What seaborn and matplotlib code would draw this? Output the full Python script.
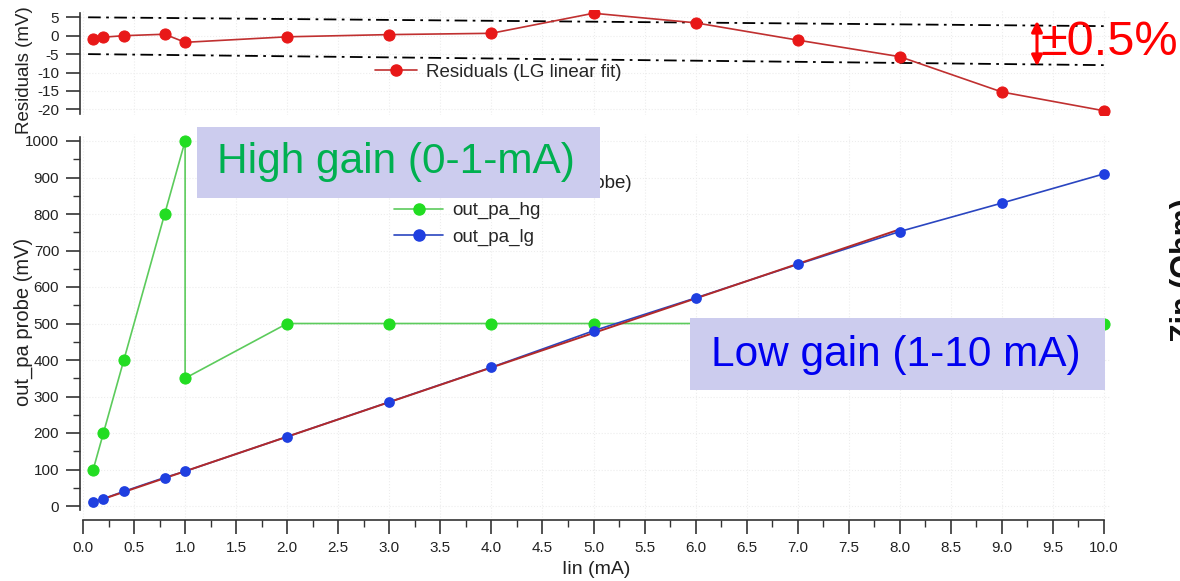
import numpy as np
import pandas as pd
import seaborn as sns
import matplotlib
matplotlib.use("Agg")
import matplotlib.pyplot as plt
from matplotlib.patches import Rectangle, FancyArrowPatch
from matplotlib.lines import Line2D
from matplotlib.ticker import MultipleLocator

# ---------------- data ----------------
iin = [0.1, 0.2, 0.4, 0.8, 1.0, 2, 3, 4, 5, 6, 7, 8, 9, 10]
hg_x = [0.1, 0.2, 0.4, 0.8, 1.0, 1.0, 2, 3, 4, 5, 6, 7, 8, 9, 10]
hg_y = [100, 200, 400, 800, 1000, 350, 500, 500, 500, 500, 500, 500, 500, 500, 500]
lg_y = [10, 20, 40, 78, 95, 190, 285, 380, 480, 570, 662, 752, 830, 910]
resid = [-1.0, -0.4, 0.0, 0.4, -1.8, -0.3, 0.3, 0.65, 6.1, 3.5, -1.2, -5.7, -15.3, -20.4]
fit_x = [0.1, 8.0]
fit_y = [10, 758]
band_x = [0.05, 10.0]
band_hi = [5.0, 2.6]
band_lo = [-5.0, -8.0]

x_ticks = np.arange(0, 10.01, 0.5)
y_ticks = np.arange(0, 1001, 100)
r_ticks = [5, 0, -5, -10, -15, -20]

sns.set_theme(style="white")
plt.rcParams['font.family'] = ['Liberation Sans', 'DejaVu Sans']
plt.rcParams['axes.unicode_minus'] = False

W, H = 1180, 581
fig = plt.figure(figsize=(W / 100, H / 100), dpi=100)


def fx(px):
    return px / W


def fy(py):
    return 1 - py / H


# axes geometry (pixel-based)
ax_l, ax_r = 80, 1110
x0_px, x10_px = 83, 1104
ppu = (x10_px - x0_px) / 10.0
xlim = ((ax_l - x0_px) / ppu, (ax_r - x0_px) / ppu)

# main axes
m_top, m_bot = 134, 520
y0_px, y1000_px = 506, 141
ppm = (y0_px - y1000_px) / 1000.0
m_ylim = ((y0_px - m_bot) / ppm, (y0_px - m_top) / ppm)
ax = fig.add_axes([fx(ax_l), fy(m_bot), (ax_r - ax_l) / W, (m_bot - m_top) / H])

# residual axes
r_top, r_bot = 10, 115
r0_px, r5_px = 35.7, 17.3
ppr = (r0_px - r5_px) / 5.0
r_ylim = ((r0_px - r_bot) / ppr, (r0_px - r_top) / ppr)
axr = fig.add_axes([fx(ax_l), fy(r_bot), (ax_r - ax_l) / W, (r_bot - r_top) / H])

grid_kw = dict(color='#EDEDED', linestyle=':', linewidth=0.8)

green_line = '#5CCB5C'
green_mk = '#22DD22'
blue_line = '#2A45C0'
blue_mk = '#1F3FE0'
red_line = '#C03030'
red_mk = '#E81818'
fit_col = '#B22A2A'
axis_col = '#333333'
text_col = '#222222'

# ---------------- main panel ----------------
df_hg = pd.DataFrame({'x': hg_x, 'y': hg_y})
df_lg = pd.DataFrame({'x': iin, 'y': lg_y})
df_fit = pd.DataFrame({'x': fit_x, 'y': fit_y})

sns.lineplot(data=df_hg, x='x', y='y', sort=False, estimator=None, ax=ax,
             color=green_line, linewidth=1.2, marker='o', markersize=8,
             markerfacecolor=green_mk, markeredgecolor=green_mk, zorder=3)
sns.lineplot(data=df_lg, x='x', y='y', sort=False, estimator=None, ax=ax,
             color=blue_line, linewidth=1.2, zorder=3)
sns.lineplot(data=df_fit, x='x', y='y', sort=False, estimator=None, ax=ax,
             color=fit_col, linewidth=1.4, zorder=4)
sns.scatterplot(data=df_lg, x='x', y='y', ax=ax, color=blue_mk, s=60,
                edgecolor=blue_mk, linewidth=0, zorder=5)

ax.set_xlim(*xlim)
ax.set_ylim(*m_ylim)
ax.set_xticks(x_ticks)
ax.set_xticklabels([f"{v:.1f}" for v in x_ticks])
ax.xaxis.set_minor_locator(MultipleLocator(0.25))
ax.set_yticks(y_ticks)
ax.yaxis.set_minor_locator(MultipleLocator(50))
for v in y_ticks:
    ax.axhline(v, zorder=0.5, **grid_kw)
for v in x_ticks:
    ax.axvline(v, zorder=0.5, **grid_kw)

for s in ['top', 'right']:
    ax.spines[s].set_visible(False)
ax.spines['left'].set_bounds(-10, 1012)
ax.spines['bottom'].set_bounds(0, 10)
for s in ['left', 'bottom']:
    ax.spines[s].set_color(axis_col)
    ax.spines[s].set_linewidth(1.2)
ax.tick_params(axis='both', which='major', direction='out', length=10, width=1.2,
               color=axis_col, labelsize=11, labelcolor=text_col, pad=5)
ax.tick_params(axis='both', which='minor', direction='out', length=5, width=1.0,
               color=axis_col)
ax.tick_params(axis='x', which='both', bottom=True)
ax.tick_params(axis='y', which='both', left=True)
ax.set_xlabel('Iin (mA)', fontsize=14, color=text_col)
ax.set_ylabel('out_pa probe (mV)', fontsize=14.5, color=text_col)
ax.xaxis.set_label_coords((596 - ax_l) / (ax_r - ax_l), (m_bot - 561) / (m_bot - m_top))
ax.yaxis.set_label_coords((33 - ax_l) / (ax_r - ax_l), (m_bot - 322) / (m_bot - m_top))
ax.grid(False)

# partially hidden legend title (mostly covered by the annotation box, as in the source)
fig.text(fx(632), fy(183), '(out_pa probe)', ha='right', va='center',
         fontsize=13.5, color=text_col, zorder=0.5)

handles = [
    Line2D([], [], color=green_line, lw=1.2, marker='o', markersize=8,
           markerfacecolor=green_mk, markeredgecolor=green_mk),
    Line2D([], [], color=blue_line, lw=1.2, marker='o', markersize=8,
           markerfacecolor=blue_mk, markeredgecolor=blue_mk),
]
leg = ax.legend(handles, ['out_pa_hg', 'out_pa_lg'], loc='center left',
                bbox_to_anchor=(fx(385), fy(224)), bbox_transform=fig.transFigure,
                frameon=False, fontsize=13.5, handlelength=2.6, handletextpad=0.5,
                labelspacing=0.5, borderpad=0)

# ---------------- residual panel ----------------
df_r = pd.DataFrame({'x': iin, 'r': resid})
sns.lineplot(data=df_r, x='x', y='r', sort=False, estimator=None, ax=axr,
             color=red_line, linewidth=1.2, marker='o', markersize=8,
             markerfacecolor=red_mk, markeredgecolor=red_mk, zorder=4)
axr.plot(band_x, band_hi, color='black', linestyle=(0, (7, 3, 1.5, 3)), linewidth=1.3, zorder=3)
axr.plot(band_x, band_lo, color='black', linestyle=(0, (7, 3, 1.5, 3)), linewidth=1.3, zorder=3)
axr.set_xlim(*xlim)
axr.set_ylim(*r_ylim)
axr.set_yticks(r_ticks)
axr.set_xticks([])
for v in r_ticks:
    axr.axhline(v, zorder=0.5, **grid_kw)
for v in x_ticks:
    axr.axvline(v, zorder=0.5, **grid_kw)
for s in ['top', 'right', 'bottom']:
    axr.spines[s].set_visible(False)
axr.spines['left'].set_color(axis_col)
axr.spines['left'].set_linewidth(1.2)
axr.spines['left'].set_bounds(-21.2, 6.2)
axr.tick_params(axis='y', which='major', direction='out', length=10, width=1.2,
                color=axis_col, labelsize=11, labelcolor=text_col, left=True, pad=5)
axr.set_xlabel('')
axr.set_ylabel('Residuals (mV)', fontsize=13.5, color=text_col)
axr.yaxis.set_label_coords((33 - ax_l) / (ax_r - ax_l), (r_bot - 70) / (r_bot - r_top))
axr.grid(False)

rh = [Line2D([], [], color=red_line, lw=1.2, marker='o', markersize=8,
             markerfacecolor=red_mk, markeredgecolor=red_mk)]
axr.legend(rh, ['Residuals (LG linear fit)'], loc='center left',
           bbox_to_anchor=(fx(366), fy(72)), bbox_transform=fig.transFigure,
           frameon=False, fontsize=13.5, handlelength=2.2, handletextpad=0.5,
           borderpad=0)

# ---------------- annotations ----------------
box_col = '#CCCCEE'
fig.patches.append(Rectangle((fx(197), fy(198)), (600 - 197) / W, (198 - 127) / H,
                             transform=fig.transFigure, facecolor=box_col,
                             edgecolor='none', zorder=5))
fig.text(fx(396), fy(162), 'High gain (0-1-mA)', ha='center', va='center',
         fontsize=30.5, color='#00B050', zorder=6)
fig.patches.append(Rectangle((fx(690), fy(390)), (1105 - 690) / W, (390 - 318) / H,
                             transform=fig.transFigure, facecolor=box_col,
                             edgecolor='none', zorder=5))
fig.text(fx(896), fy(355), 'Low gain (1-10 mA)', ha='center', va='center',
         fontsize=30.5, color='#0000F0', zorder=6)

fig.patches.append(FancyArrowPatch((fx(1037), fy(18)), (fx(1037), fy(69)),
                                   transform=fig.transFigure, arrowstyle='<|-|>',
                                   mutation_scale=16, color='red', lw=2.2, zorder=6))
fig.text(fx(1041), fy(55), '±0.5%', ha='left', va='baseline', fontsize=35,
         color='red', zorder=6)

# right-axis label that the source crop cuts off at the image edge
fig.text(fx(1170), fy(270), 'Zin (Ohm)', rotation=90, ha='left', va='center',
         fontsize=22, fontweight='bold', color='#111111')

fig.savefig('out.png', dpi=100, facecolor='white')
